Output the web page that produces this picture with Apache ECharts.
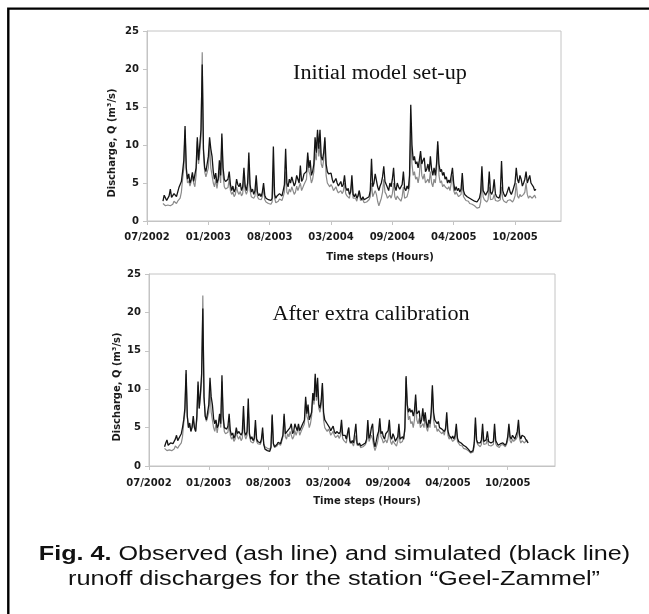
<!DOCTYPE html>
<html>
<head>
<meta charset="utf-8">
<script src="https://cdn.jsdelivr.net/npm/echarts@6/dist/echarts.min.js"></script>
<style>
html,body{margin:0;padding:0;background:#fff;}
#chart{width:649px;height:614px;}
</style>
</head>
<body>
<div id="chart"></div>
<script>
// ---- Data (discharge, m3/s), one value every 96 hours ----
const tickLabels = ['07/2002', '01/2003', '08/2003', '03/2004', '09/2004', '04/2005', '10/2005'];
const LABEL_STEP_HOURS = 4800;
const START_HOUR = 1250;
const STEP_HOURS = 96;

// observed (ash line) - same in both panels
const observedQ = [
2.3,2.5,2.0,1.9,2.1,2.3,2.0,2.1,2.2,2.6,2.4,2.3,2.6,2.8,3.0,3.8,5.5,7.0,12.0,6.5,
5.0,5.3,4.6,5.2,6.0,5.0,4.5,6.0,10.5,7.5,9.0,11.0,22.2,9.0,6.5,5.8,6.0,7.0,10.0,7.0,
6.0,5.0,4.5,5.5,4.3,4.5,6.5,5.0,11.0,6.0,4.5,4.2,4.0,4.4,5.5,4.0,3.5,3.8,3.2,3.5,
4.5,3.8,3.5,3.9,3.3,3.6,6.0,4.0,3.5,4.0,7.5,4.0,3.2,3.4,3.0,3.3,5.0,3.2,2.9,3.1,
2.8,3.2,4.3,2.8,2.5,2.4,2.3,2.4,2.2,2.5,6.5,3.0,2.4,2.6,2.6,2.9,2.8,2.7,3.2,3.8,
6.5,3.8,3.5,4.2,3.8,4.5,4.0,3.5,3.8,4.6,4.0,4.5,5.0,4.0,4.2,4.8,5.0,5.5,8.5,6.5,
6.0,5.0,5.5,6.5,9.0,8.0,11.5,8.5,10.0,7.5,7.0,8.0,10.5,6.0,5.0,5.2,4.5,4.8,4.5,4.0,
4.2,4.5,4.0,3.7,3.8,4.0,3.6,3.9,5.0,3.6,3.3,3.5,3.0,3.2,5.0,3.0,2.8,3.0,2.6,2.8,
4.0,2.7,2.5,2.8,2.4,2.6,2.5,2.3,2.8,3.2,5.0,3.2,3.0,4.0,3.5,2.6,2.0,2.5,3.0,3.8,
5.5,3.8,3.5,3.0,2.8,3.4,3.0,3.6,5.0,3.2,2.8,3.3,3.0,2.8,2.6,3.2,4.5,3.0,2.8,3.2,
3.0,4.5,11.5,7.5,6.0,6.5,5.5,5.8,5.0,6.0,8.5,6.0,5.5,6.2,5.0,5.0,5.5,5.0,6.5,5.0,
4.5,5.5,5.0,6.5,10.0,6.0,5.0,5.3,4.5,4.8,4.5,4.3,4.2,4.5,4.0,4.2,6.0,4.0,3.5,3.8,
3.5,3.2,3.3,3.5,5.0,3.2,3.0,2.7,2.5,2.6,2.3,2.4,2.2,2.1,2.0,1.9,1.7,1.9,1.8,2.5,
5.5,3.2,2.8,2.6,2.5,2.8,4.5,2.8,2.6,2.9,3.5,2.7,2.5,2.6,2.4,2.8,4.5,2.9,2.6,2.5,
2.4,2.7,2.5,2.8,2.6,2.5,2.8,3.3,5.0,3.3,3.0,3.5,3.2,3.0,3.5,3.8,5.0,3.5,3.0,3.3,
3.5,3.0,3.2,3.4,3.0
];
// simulated (black line) - initial model set-up
const simInitialQ = [
2.6,3.4,3.2,2.7,2.8,3.3,4.2,3.1,3.0,3.6,3.4,3.2,3.8,4.4,4.5,5.2,6.5,8.0,12.5,7.0,
5.5,6.2,5.0,5.5,6.4,5.2,5.0,7.0,11.0,8.0,10.0,12.0,20.6,9.5,7.0,6.5,7.5,8.5,11.0,9.5,
8.5,6.5,5.5,6.3,5.0,5.5,8.0,6.0,11.5,7.0,5.5,5.2,5.0,5.5,6.5,4.8,4.0,4.6,3.8,4.2,
5.5,4.8,4.5,5.0,4.0,4.5,7.0,4.6,4.0,5.0,9.0,4.8,3.8,4.2,3.5,4.0,6.0,3.8,3.3,3.6,
3.2,3.8,5.0,3.4,3.0,2.9,2.8,2.9,2.7,3.0,9.8,3.5,3.0,3.3,3.2,3.6,3.5,3.3,4.0,4.8,
9.5,5.0,4.5,5.5,5.0,5.8,6.0,4.6,5.0,6.0,5.5,5.0,7.3,5.2,5.5,6.2,6.0,6.5,9.0,7.0,
8.0,6.0,6.5,7.5,11.0,9.0,12.0,9.5,12.0,8.5,8.0,9.0,11.0,7.5,6.5,6.2,6.0,6.3,5.5,5.0,
5.2,5.6,5.0,4.6,4.8,5.2,4.5,4.8,6.0,4.4,4.0,4.3,3.5,3.8,6.0,3.5,3.2,3.6,3.0,3.3,
4.0,3.1,2.8,3.2,2.8,3.0,3.0,2.8,3.2,4.0,8.2,4.5,5.0,6.2,6.0,4.5,4.0,4.6,5.0,5.8,
7.2,5.2,5.0,4.4,4.0,5.0,4.5,5.5,7.0,4.5,4.0,5.0,4.5,4.2,4.0,4.8,6.5,4.3,4.0,4.6,
4.2,6.0,15.3,10.0,8.0,8.5,7.5,7.8,7.0,8.0,9.2,7.5,8.0,8.3,6.5,6.8,7.5,6.5,8.5,6.8,
6.0,7.0,6.0,7.5,10.5,7.5,6.5,6.8,6.0,6.4,5.5,5.8,5.0,5.4,5.0,5.2,7.0,5.0,4.0,4.5,
4.0,4.3,3.8,4.2,6.3,4.0,3.5,3.4,3.2,3.3,3.0,3.1,2.8,2.9,2.6,2.5,2.5,2.7,3.0,3.8,
7.2,4.0,3.8,3.4,3.5,4.0,6.5,3.8,3.5,4.0,5.5,3.6,3.2,3.4,3.0,3.6,7.9,4.0,3.5,3.2,
3.5,4.0,4.5,3.8,3.5,3.9,4.0,5.0,7.0,5.5,5.0,6.0,5.5,4.6,5.0,5.5,6.5,5.0,5.5,6.0,
5.0,4.8,4.5,4.0,4.2
];
// simulated (black line) - after extra calibration
const simCalibratedQ = [
2.5,3.0,3.4,2.7,2.6,3.0,3.2,2.9,3.0,3.5,4.0,3.3,3.5,3.9,4.2,5.0,6.0,7.5,12.5,6.5,
5.0,5.6,4.5,5.0,6.5,5.0,4.5,6.5,11.0,7.5,9.5,12.0,20.5,9.0,6.5,6.0,7.0,8.0,11.5,9.0,
8.0,6.2,5.5,6.0,5.0,5.3,6.8,5.5,11.8,6.5,5.0,4.8,4.8,5.2,6.8,4.6,4.0,4.3,3.6,4.0,
5.0,4.2,4.5,4.6,4.0,4.4,7.8,4.4,4.0,4.5,8.8,4.2,3.5,3.8,3.3,3.6,6.0,3.5,3.2,3.4,
3.0,3.5,5.0,2.8,2.2,2.1,2.0,2.1,1.9,2.4,6.7,2.9,2.5,2.7,2.8,3.1,3.0,2.9,3.5,4.0,
6.8,4.2,4.0,4.6,4.5,5.0,5.5,4.2,4.5,5.5,5.0,4.6,5.5,4.6,4.8,5.3,5.5,6.0,9.0,6.8,
8.0,6.0,6.5,7.0,9.5,8.5,12.0,9.0,11.5,8.0,7.5,8.5,10.8,7.0,6.0,5.8,5.5,5.7,5.0,4.6,
4.8,5.2,4.5,4.2,4.5,4.7,4.2,4.5,6.0,4.0,3.8,4.0,3.5,3.6,5.0,3.3,3.0,3.3,3.0,3.1,
5.5,3.0,2.7,3.0,2.6,2.8,2.8,2.6,3.0,3.5,6.0,3.6,4.0,5.0,5.5,3.2,2.5,3.2,4.0,4.5,
6.2,4.2,4.5,3.8,3.5,4.2,4.0,4.6,6.0,3.8,3.5,4.2,3.8,3.2,3.0,3.8,5.5,3.5,3.3,3.8,
3.5,5.0,11.7,8.0,7.0,7.5,7.0,7.3,6.5,7.2,9.3,6.8,7.0,7.2,5.5,6.0,7.5,5.8,7.0,5.6,
5.0,6.0,5.5,7.0,10.5,7.0,6.0,6.2,5.5,5.8,5.0,5.2,4.8,5.0,4.5,4.8,7.0,4.6,4.0,4.2,
3.6,3.9,3.5,4.0,5.5,3.6,3.2,3.1,3.0,2.9,2.7,2.8,2.5,2.4,2.2,2.0,1.8,1.9,2.0,3.0,
6.3,3.4,3.0,2.8,3.0,3.4,5.5,3.2,3.0,3.4,4.5,3.2,3.0,3.0,2.8,3.2,5.5,3.3,3.0,2.7,
2.5,2.9,2.8,3.0,2.8,2.7,3.0,3.8,5.5,3.8,3.5,4.0,3.8,3.5,4.0,4.5,6.0,4.0,3.5,4.0,
4.2,3.8,3.5,3.3,3.0
];

const hours = observedQ.map((_, i) => START_HOUR + i * STEP_HOURS);
const pairs = arr => arr.map((v, i) => [hours[i], v]);
const tickHours = tickLabels.map((_, i) => i * LABEL_STEP_HOURS);

const axisFont = 'DejaVu Sans';
const gridLine = '#c4c4c4';

function xAxisFor(gridIndex, maxHours, margin) {
  return {
    type: 'value', gridIndex: gridIndex, min: 0, max: maxHours,
    axisLine: {show: true, lineStyle: {color: gridLine, width: 1}},
    axisTick: {show: true, length: 4, lineStyle: {color: gridLine}, customValues: tickHours},
    axisLabel: {
      customValues: tickHours,
      margin: margin,
      fontFamily: axisFont, fontWeight: 'bold', fontSize: 10, color: '#1a1a1a',
      formatter: v => tickLabels[Math.round(v / LABEL_STEP_HOURS)]
    },
    splitLine: {show: false}
  };
}
function yAxisFor(gridIndex, margin) {
  return {
    type: 'value', gridIndex: gridIndex, min: 0, max: 25, interval: 5,
    axisLine: {show: true, lineStyle: {color: gridLine, width: 1}},
    axisTick: {show: true, length: 4, lineStyle: {color: gridLine}},
    axisLabel: {margin: margin, fontFamily: axisFont, fontWeight: 'bold', fontSize: 10, color: '#1a1a1a'},
    splitLine: {show: false}
  };
}

const ashColor = '#8a8a8a';
const blackColor = '#141414';

const option = {
  animation: false,
  backgroundColor: '#ffffff',
  grid: [
    {left: 147, top: 31, width: 414, height: 190, show: true, borderColor: gridLine, borderWidth: 1, backgroundColor: 'transparent'},
    {left: 149, top: 274, width: 406, height: 192, show: true, borderColor: gridLine, borderWidth: 1, backgroundColor: 'transparent'}
  ],
  xAxis: [xAxisFor(0, 32400, 11), xAxisFor(1, 32600, 12)],
  yAxis: [yAxisFor(0, 8), yAxisFor(1, 8)],
  series: [
    {name: 'Observed', type: 'line', xAxisIndex: 0, yAxisIndex: 0, data: pairs(observedQ), showSymbol: false, lineStyle: {color: ashColor, width: 1.2}, itemStyle: {color: ashColor}},
    {name: 'Simulated (initial)', type: 'line', xAxisIndex: 0, yAxisIndex: 0, data: pairs(simInitialQ), showSymbol: false, lineStyle: {color: blackColor, width: 1.3}, itemStyle: {color: blackColor}},
    {name: 'Observed', type: 'line', xAxisIndex: 1, yAxisIndex: 1, data: pairs(observedQ), showSymbol: false, lineStyle: {color: ashColor, width: 1.2}, itemStyle: {color: ashColor}},
    {name: 'Simulated (calibrated)', type: 'line', xAxisIndex: 1, yAxisIndex: 1, data: pairs(simCalibratedQ), showSymbol: false, lineStyle: {color: blackColor, width: 1.3}, itemStyle: {color: blackColor}}
  ],
  graphic: [
    {type: 'rect', silent: true, shape: {x: 8.3, y: 8.6, width: 700, height: 700}, style: {fill: 'none', stroke: '#000', lineWidth: 2.4}},
    {type: 'text', x: 380, y: 74, scaleX: 1.11, style: {text: 'Initial model set-up', fontFamily: 'Liberation Serif', fontSize: 20, fill: '#111', align: 'center', verticalAlign: 'middle'}},
    {type: 'text', x: 371, y: 315, scaleX: 1.11, style: {text: 'After extra calibration', fontFamily: 'Liberation Serif', fontSize: 20, fill: '#111', align: 'center', verticalAlign: 'middle'}},
    {type: 'text', x: 380, y: 257, style: {text: 'Time steps (Hours)', fontFamily: axisFont, fontWeight: 'bold', fontSize: 10, fill: '#1a1a1a', align: 'center', verticalAlign: 'middle'}},
    {type: 'text', x: 367, y: 501, style: {text: 'Time steps (Hours)', fontFamily: axisFont, fontWeight: 'bold', fontSize: 10, fill: '#1a1a1a', align: 'center', verticalAlign: 'middle'}},
    {type: 'text', x: 112, y: 143, rotation: Math.PI / 2, style: {text: 'Discharge, Q (m³/s)', fontFamily: axisFont, fontWeight: 'bold', fontSize: 10, fill: '#1a1a1a', align: 'center', verticalAlign: 'middle'}},
    {type: 'text', x: 117, y: 387, rotation: Math.PI / 2, style: {text: 'Discharge, Q (m³/s)', fontFamily: axisFont, fontWeight: 'bold', fontSize: 10, fill: '#1a1a1a', align: 'center', verticalAlign: 'middle'}},
    {type: 'text', x: 334.5, y: 555, scaleX: 1.29, style: {
      text: '{b|Fig. 4.} Observed (ash line) and simulated (black line)',
      fontFamily: 'Liberation Sans', fontSize: 19.5, fill: '#111', align: 'center', verticalAlign: 'middle',
      rich: {b: {fontFamily: 'Liberation Sans', fontSize: 19.5, fontWeight: 'bold', fill: '#111'}}
    }},
    {type: 'text', x: 334, y: 580, scaleX: 1.30, style: {
      text: 'runoff discharges for the station “Geel-Zammel”',
      fontFamily: 'Liberation Sans', fontSize: 19.5, fill: '#111', align: 'center', verticalAlign: 'middle'
    }}
  ]
};

const chart = echarts.init(document.getElementById('chart'), null, {renderer: 'canvas'});
chart.setOption(option);
</script>
</body>
</html>
